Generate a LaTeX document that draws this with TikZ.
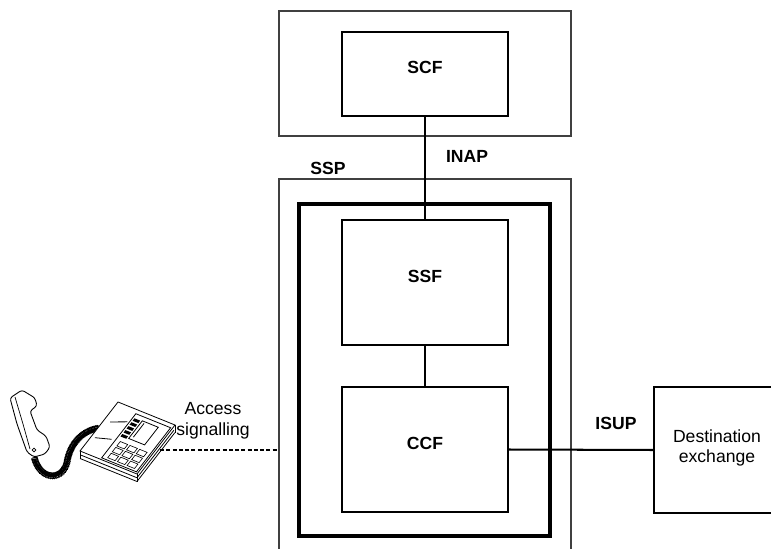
\documentclass[tikz,border=0pt]{standalone}
\usepackage{fontspec}
\setmainfont{Liberation Sans}
\usetikzlibrary{positioning,fit,decorations.pathmorphing}

\tikzset{
  blk/.style={draw, line width=0.6pt, inner sep=0pt},
  shell/.style={draw=black!75, line width=0.6pt, inner sep=0pt},
  frame/.style={draw, line width=1.9pt},
  link/.style={line width=1.15pt},
  lbl/.style={font=\bfseries},
  key/.style={line width=0.35pt, fill=white},
}

\begin{document}
\begin{tikzpicture}[x=0.2mm, y=-0.2mm, font=\fontsize{10}{11.7}\selectfont]
  \useasboundingbox (0,0) rectangle (771,549);
  \clip (0,0) rectangle (771,549);

  % service control point
  \node [shell, fit={(279,11) (571,136)}] (scp) {};
  \node [blk, fit={(342,32) (508,116)}, lbl] (scf) {SCF};

  % switching point, open at the bottom
  \node [shell, fit={(279,179) (571,570)}] (ssp) {};
  \node [frame, inner sep=0pt, fit={(299,204) (550,536)}] (core) {};
  \node [blk, fit={(342,220) (508,345)}, lbl] (ssf) {SSF};
  \node [blk, fit={(342,387) (508,512)}, lbl] (ccf) {CCF};

  \node [blk, fit={(654,387) (790,513)}] (dest) {};
  \node [align=center] (destlbl) at (717,448) {Destination\\exchange};

  \draw [link] (scf.south) -- (ssf.north);
  \draw [link] (ssf.south) -- (ccf.north);
  \draw [link] (ccf.east) -- (dest.west);

  \node [lbl] (inap) at (467,156) {INAP};
  \node [lbl] (ssplbl) at (328,168) {SSP};
  \node [lbl] (isup) at (616,423) {ISUP};
  \node [align=center] (access) at (213,421) {Access\\signalling};

  % telephone
  \coordinate (phone) at (160,450);
  \draw [line width=0.6pt, dash pattern=on 0.8mm off 0.45mm] (phone) -- (phone -| ssp.west);

  % coiled cord
  \draw [decorate, decoration={coil, aspect=0.5, amplitude=0.6mm, segment length=0.3mm}, line width=0.5pt]
    (34,456) .. controls (39,480) and (62,482) .. (67,462) .. controls (71,440) and (86,429) .. (101,428);

  % handset
  \draw [fill=white, line width=0.5pt, rounded corners=1.5pt]
    (10,398) -- (22,390) -- (35,398) -- (37,406) -- (30,411) -- (37,430) -- (46,436)
    -- (50,447) -- (45,454) -- (34,457) -- (27,452) -- (17,424) -- cycle;
  \draw [line width=0.4pt] (15,397) -- (23,424) -- (30,449);
  \draw [line width=0.4pt] (34,450) circle (1.8);

  % base, drawn in its own skewed frame
  \begin{scope}[shift={(80,451)}, x={(11.4mm,-4.6mm)}, y={(7.6mm,9.8mm)}, line width=0.45pt]
    \draw [yshift=-1.5mm] (0,0) -- (1,0) -- (1,1);
    \draw [yshift=-0.75mm] (0.02,0) -- (1,0) -- (1,0.97);
    \draw (0,0) -- ++(0,-1.5mm) (1,0) -- ++(0,-1.5mm) (1,1) -- ++(0,-1.5mm);
    \draw [fill=white] (0,0) -- (1,0) -- (1,1) -- (0,1) -- cycle;
    \draw (0.36,0.03) -- ++(0.61,0) -- ++(0,0.9) -- ++(-0.61,0) -- cycle;
    % display
    \draw (0.52,0.5) -- ++(0.28,0) -- ++(0,0.36) -- ++(-0.28,0) -- cycle;
    \draw (0.57,0.55) -- ++(0,0.28);
    % dark buttons
    \foreach \k in {0,...,4}
      \fill (0.39,{0.48+0.08*\k}) -- ++(0.1,0) -- ++(0,0.05) -- ++(-0.1,0) -- cycle;
    % keypad
    \foreach \i in {0,1,2}
      \foreach \j in {0,1,2}
        \draw [key] ({0.44+0.17*\i},{0.07+0.12*\j}) -- ++(0.13,0) -- ++(0,0.09) -- ++(-0.13,0) -- cycle;
    % hook switch
    \draw (0.1,0.64) -- (0.33,0.75);
    \draw (0.06,0.3) -- (0.3,0.38);
  \end{scope}
\end{tikzpicture}
\end{document}
